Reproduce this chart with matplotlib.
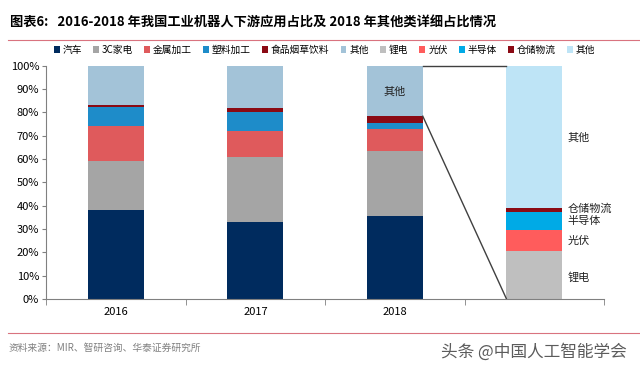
import matplotlib
matplotlib.use("Agg")
import matplotlib.pyplot as plt
import numpy as np

plt.rcParams['font.family'] = ['Noto Sans CJK SC', 'DejaVu Sans']

# data
years = ['2016', '2017', '2018', '']
main_names = ['汽车', '3C家电', '金属加工', '塑料加工', '食品烟草饮料', '其他']
main_vals = [
    [38, 33, 35.5],     # 汽车
    [21, 28, 28],       # 3C家电
    [15, 11, 9.5],      # 金属加工
    [8.3, 8, 2.6],      # 塑料加工
    [0.7, 2, 2.8],      # 食品烟草饮料
    [17, 18, 21.6],     # 其他
]
main_colors = ['#002B5E', '#A5A5A5', '#DF5A5C', '#1E8CC9', '#8B0A14', '#A3C3D8']

detail_names = ['锂电', '光伏', '半导体', '仓储物流', '其他']
detail_vals = [20.4, 9.2, 7.5, 1.8, 61.1]
detail_colors = ['#BFBFBF', '#FF5C5C', '#00AAE6', '#8B0A14', '#BEE4F6']
detail_label_y = [9.4, 25, 33.5, 38.6, 69]

fig = plt.figure(figsize=(6.4, 3.7), dpi=100)
ax = fig.add_axes([0.072, 0.192, 0.872, 0.63])

x = np.arange(3)
w = 0.4
bottom = np.zeros(3)
handles = []
for name, vals, c in zip(main_names, main_vals, main_colors):
    b = ax.bar(x, vals, w, bottom=bottom, color=c, label=name)
    handles.append(b)
    bottom += np.array(vals)

bot = 0
for name, v, c in zip(detail_names, detail_vals, detail_colors):
    b = ax.bar(3, v, w, bottom=bot, color=c, label=name)
    handles.append(b)
    bot += v

# connector lines from 2018 "其他" to detail bar
other_bottom = sum(v[2] for v in main_vals[:-1])
ax.plot([2 + w / 2, 3 - w / 2], [100, 100], color='#404040', lw=1, clip_on=False)
ax.plot([2 + w / 2, 3 - w / 2], [other_bottom, 0], color='#404040', lw=1, clip_on=False)

ax.text(2, 89, '其他', ha='center', va='center', fontsize=8, color='#222222')
for name, yy in zip(detail_names, detail_label_y):
    ax.text(3.24, yy, name, ha='left', va='center', fontsize=8, color='#222222')

ax.set_xlim(-0.5, 3.5)
ax.set_ylim(0, 100)
ax.set_yticks(np.arange(0, 101, 10))
ax.set_yticklabels(['%d%%' % v for v in range(0, 101, 10)], fontsize=8)
ax.set_xticks(x.tolist() + [3])
ax.set_xticklabels(years, fontsize=8)
ax.tick_params(axis='x', length=0, pad=6)
ax.set_xticks(np.arange(-0.5, 3.6, 1), minor=True)
ax.tick_params(axis='x', which='minor', length=4, color='#808080')
ax.tick_params(axis='y', length=3, color='#808080', pad=2)
for s in ['top', 'right']:
    ax.spines[s].set_visible(False)
ax.spines['left'].set_color('#808080')
ax.spines['bottom'].set_color('#808080')

fig.legend(handles=handles, labels=main_names + detail_names, loc='center',
           bbox_to_anchor=(0.507, 0.865), ncol=11, frameon=False, fontsize=7,
           handlelength=0.6, handleheight=0.6, handletextpad=0.3, columnspacing=1.15)

fig.text(0.016, 0.94, '图表6:   2016-2018 年我国工业机器人下游应用占比及 2018 年其他类详细占比情况',
         fontsize=9.5, fontweight='bold', va='center')
fig.add_artist(plt.Line2D([0.012, 1.0], [0.892, 0.892], color='#D9737F', lw=0.8))
fig.add_artist(plt.Line2D([0.012, 1.0], [0.1, 0.1], color='#D9737F', lw=0.8))
fig.text(0.014, 0.06, '资料来源：MIR、智研咨询、华泰证券研究所', fontsize=7, color='#808080', va='center')
fig.text(0.98, 0.05, '头条 @中国人工智能学会', fontsize=12, color='#333333', ha='right', va='center', alpha=0.8)

fig.savefig('out.png', dpi=100)
